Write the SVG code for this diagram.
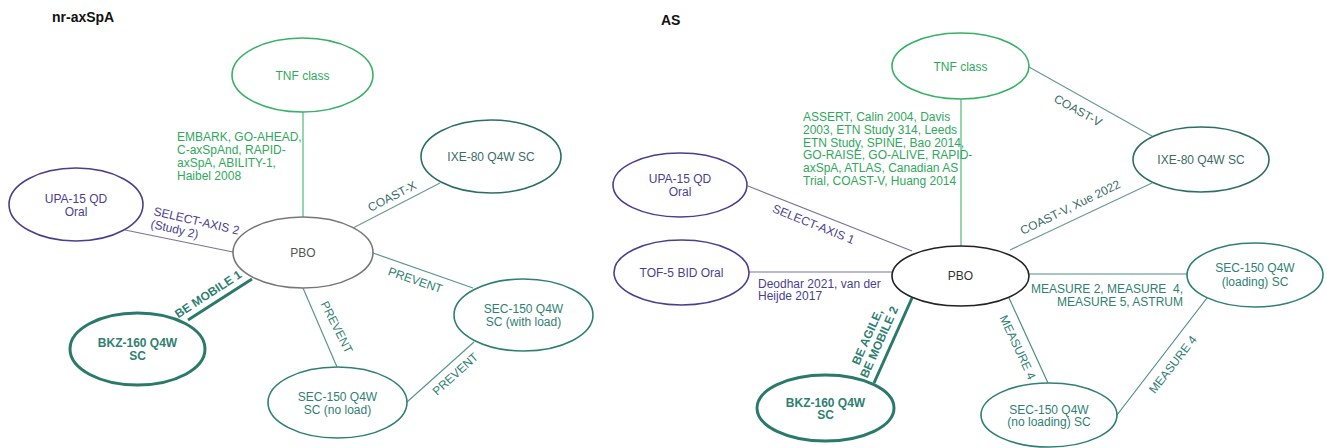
<svg xmlns="http://www.w3.org/2000/svg" width="1327" height="448" viewBox="0 0 1327 448">
<style>
text{font-family:"Liberation Sans",Arial,sans-serif;font-size:12px}
.t{text-anchor:middle;dominant-baseline:central}
.title{font-size:14px;font-weight:bold;fill:#111}
.gr{fill:#2fa85c}.pu{fill:#4a3f8e}.te{fill:#2f7f72}.dt{fill:#3a6c65}.gy{fill:#555}
.b{font-weight:bold}
ellipse{fill:#fff;stroke-width:1.6}
.eg{stroke:#37b166}.ep{stroke:#4a3f8e}.et{stroke:#2f8073}.ed{stroke:#2b6f63}.ek{stroke:#2a7a6c;stroke-width:3}
.c line{stroke-width:1.2}
</style>
<text class="title" x="52" y="22">nr-axSpA</text>
<text class="title" x="661" y="25">AS</text>
<g class="c" id="connectors">
<line x1="303" y1="112" x2="303" y2="217" stroke="#4dba7a"/>
<line x1="125" y1="230" x2="233" y2="252" stroke="#7a7499"/>
<line x1="353" y1="228" x2="440" y2="183" stroke="#6a9a92"/>
<line x1="252" y1="279" x2="188" y2="320" stroke="#2a7a6c" style="stroke-width:3"/>
<line x1="303" y1="288" x2="337" y2="367" stroke="#5a978c"/>
<line x1="373" y1="253" x2="473" y2="288" stroke="#5a978c"/>
<line x1="407" y1="402" x2="474" y2="342" stroke="#5a978c"/>
<line x1="961" y1="99" x2="961" y2="246" stroke="#4dba7a"/>
<line x1="748" y1="186" x2="912" y2="251" stroke="#7a7499"/>
<line x1="749" y1="272" x2="892" y2="272" stroke="#7a73a8"/>
<line x1="1029" y1="67" x2="1152" y2="136" stroke="#6a9a92"/>
<line x1="1010" y1="250" x2="1152" y2="183" stroke="#6a9a92"/>
<line x1="1029" y1="274" x2="1187" y2="274" stroke="#4c8f84"/>
<line x1="1009" y1="298" x2="1048" y2="383" stroke="#4c8f84"/>
<line x1="1117" y1="415" x2="1207" y2="298" stroke="#4c8f84"/>
<line x1="912" y1="298" x2="874" y2="383" stroke="#2a7a6c" style="stroke-width:3"/>
<text class="gr" x="177" y="141">EMBARK, GO-AHEAD,</text>
<text class="gr" x="177" y="154">C-axSpAnd, RAPID-</text>
<text class="gr" x="177" y="167">axSpA, ABILITY-1,</text>
<text class="gr" x="177" y="180">Haibel 2008</text>
<text class="pu" transform="translate(153,215) rotate(13)">SELECT-AXIS 2<tspan x="0" dy="13">(Study 2)</tspan></text>
<text class="dt" text-anchor="middle" transform="translate(394,200) rotate(-27)">COAST-X</text>
<text class="te b" text-anchor="middle" transform="translate(210.5,297.5) rotate(-33)">BE MOBILE 1</text>
<text class="te" text-anchor="middle" transform="translate(333,329) rotate(63)">PREVENT</text>
<text class="te" text-anchor="middle" transform="translate(414,284) rotate(19)">PREVENT</text>
<text class="te" text-anchor="middle" transform="translate(458,377) rotate(-42)">PREVENT</text>
<text class="gr" x="803" y="121">ASSERT, Calin 2004, Davis</text>
<text class="gr" x="803" y="134">2003, ETN Study 314, Leeds</text>
<text class="gr" x="803" y="147">ETN Study, SPINE, Bao 2014,</text>
<text class="gr" x="803" y="159">GO-RAISE, GO-ALIVE, RAPID-</text>
<text class="gr" x="803" y="172">axSpA, ATLAS, Canadian AS</text>
<text class="gr" x="803" y="185">Trial, COAST-V, Huang 2014</text>
<text class="pu" text-anchor="middle" transform="translate(812,228) rotate(22)">SELECT-AXIS 1</text>
<text class="pu" x="758" y="288">Deodhar 2021, van der</text>
<text class="pu" x="758" y="300">Heijde 2017</text>
<text class="dt" text-anchor="middle" transform="translate(1076,114) rotate(29)">COAST-V</text>
<text class="dt" text-anchor="middle" transform="translate(1072,211) rotate(-26)">COAST-V, Xue 2022</text>
<text class="te" text-anchor="end" xml:space="preserve" x="1183" y="293">MEASURE 2, MEASURE  4,</text>
<text class="te" text-anchor="end" x="1183" y="306">MEASURE 5, ASTRUM</text>
<text class="te" text-anchor="middle" transform="translate(1014,349) rotate(65)">MEASURE 4</text>
<text class="te" text-anchor="middle" transform="translate(1176,367) rotate(-52)">MEASURE 4</text>
<text class="te b" text-anchor="middle" transform="translate(871,338.5) rotate(-66)">BE AGILE,<tspan x="0" dy="13">BE MOBILE 2</tspan></text>
</g>
<g id="l-tnf"><ellipse class="eg" cx="302.5" cy="75" rx="70.5" ry="37"/><text class="t gr" x="302.5" y="76">TNF class</text></g>
<g id="l-upa"><ellipse class="ep" cx="76" cy="204.5" rx="67" ry="36.5"/><text class="t pu" x="76" y="199">UPA-15 QD</text><text class="t pu" x="76" y="212">Oral</text></g>
<g id="l-pbo"><ellipse style="stroke:#777" cx="303" cy="252.5" rx="70" ry="35.5"/><text class="t gy" x="303" y="253">PBO</text></g>
<g id="l-ixe"><ellipse class="ed" cx="491" cy="156.5" rx="70" ry="36.5"/><text class="t dt" x="491" y="157">IXE-80 Q4W SC</text></g>
<g id="l-bkz"><ellipse class="ek" cx="137.5" cy="349" rx="67.5" ry="36"/><text class="t te b" x="137.5" y="343">BKZ-160 Q4W</text><text class="t te b" x="137.5" y="356">SC</text></g>
<g id="l-secno"><ellipse class="et" cx="337.5" cy="402.5" rx="69.5" ry="35.5"/><text class="t te" x="337.5" y="397">SEC-150 Q4W</text><text class="t te" x="337.5" y="410">SC (no load)</text></g>
<g id="l-secwith"><ellipse class="et" cx="523.5" cy="315" rx="69.5" ry="36"/><text class="t te" x="523.5" y="309">SEC-150 Q4W</text><text class="t te" x="523.5" y="322">SC (with load)</text></g>
<g id="r-tnf"><ellipse class="eg" cx="960.5" cy="66" rx="68.5" ry="33"/><text class="t gr" x="960.5" y="67">TNF class</text></g>
<g id="r-upa"><ellipse class="ep" cx="680" cy="185" rx="67" ry="32"/><text class="t pu" x="680" y="179">UPA-15 QD</text><text class="t pu" x="680" y="192">Oral</text></g>
<g id="r-tof"><ellipse class="ep" cx="681.5" cy="272.5" rx="67.5" ry="32.5"/><text class="t pu" x="681.5" y="273">TOF-5 BID Oral</text></g>
<g id="r-pbo"><ellipse style="stroke:#222" cx="960.5" cy="276" rx="68.5" ry="30"/><text class="t" fill="#333" x="960.5" y="276">PBO</text></g>
<g id="r-ixe"><ellipse class="ed" cx="1201" cy="159.5" rx="68" ry="32.5"/><text class="t dt" x="1201" y="160">IXE-80 Q4W SC</text></g>
<g id="r-secload"><ellipse class="et" cx="1255" cy="275" rx="68" ry="32"/><text class="t te" x="1255" y="268">SEC-150 Q4W</text><text class="t te" x="1255" y="282">(loading) SC</text></g>
<g id="r-secno"><ellipse class="et" cx="1049" cy="415" rx="68" ry="32"/><text class="t te" x="1049" y="410">SEC-150 Q4W</text><text class="t te" x="1049" y="422">(no loading) SC</text></g>
<g id="r-bkz"><ellipse class="ek" cx="825.5" cy="408" rx="68.5" ry="33"/><text class="t te b" x="825.5" y="403">BKZ-160 Q4W</text><text class="t te b" x="825.5" y="415">SC</text></g>
</svg>
